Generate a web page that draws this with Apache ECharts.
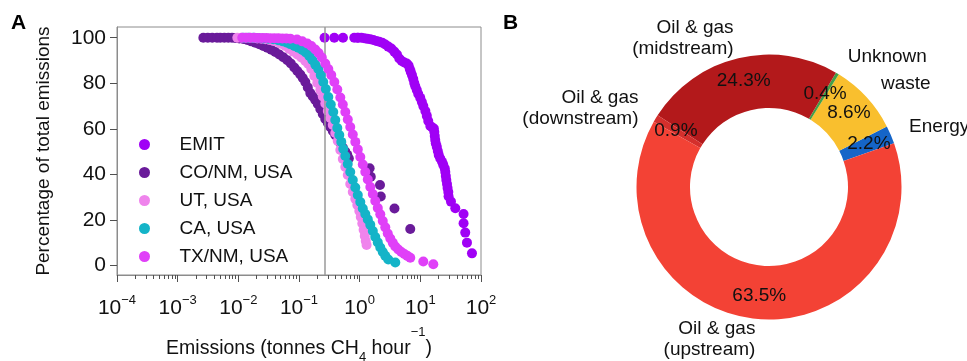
<!DOCTYPE html>
<html>
<head>
<meta charset="utf-8">
<script src="https://cdn.jsdelivr.net/npm/echarts@6/dist/echarts.min.js"></script>
<style>
  html, body { margin: 0; padding: 0; background: #fff; }
  #chart { width: 967px; height: 361px; }
</style>
</head>
<body>
<div id="chart"></div>
<script>
// ---- panel A: cumulative share of emissions vs. plume size ----
const seriesNames = ["EMIT", "CO/NM, USA", "UT, USA", "CA, USA", "TX/NM, USA"];
const seriesColors = ["#a000f5", "#6a1b9a", "#ef84ec", "#14b4c8", "#e040f8"];

const emitPts = [[0.264,100],[0.382,100],[0.531,100],[0.815,100],[0.914,100],
  [0.948,100],[1.064,100],[1.19,99.8],[1.336,99.5],[1.497,99.3],[1.678,99.0],[1.879,98.6],[2.105,98.2],
  [2.36,97.8],[2.643,97.0],[2.963,96.1],[3.32,95.3],[3.72,93.9],[4.12,92.6],[4.50,90.9],[4.94,89.8],
  [5.44,89.1],[5.98,88.7],[6.40,87.8],[6.70,86.3],[6.96,85.0],[7.28,83.6],[7.65,81.9],[7.94,80.1],
  [8.26,78.7],[8.74,77.1],[9.25,75.3],[9.98,73.6],[10.6,71.8],[11.2,70.0],[12.1,67.8],[12.8,65.7],
  [13.5,63.5],[14.6,61.3],[15.7,60.6],[16.7,60.2],[17.0,58.6],[17.3,56.9],[17.6,55.1],[18.0,53.6],
  [18.7,52.1],[19.4,50.3],[20.1,48.6],[21.3,47.0],[22.8,45.6],[23.9,44.2],[25.3,42.6],[25.8,41.1],
  [26.3,39.3],[26.8,37.6],[27.5,35.8],[28.1,34.1],[28.9,32.3],[29.2,30.4],[32.0,28.1],[37.7,25.2],
  [51.6,22.7],[51.6,18.6],[55.0,14.5],[58.7,10.1],[71.0,5.4]];

const conmPts = [[0.00265,100],[0.00314,100],[0.00372,100],[0.00445,100],[0.00504,100],[0.00587,100],
  [0.00683,100],[0.00786,100],[0.00891,99.9],[0.01038,99.7],[0.01208,99.4],[0.01406,99.0],[0.01637,98.4],
  [0.01906,97.8],[0.02215,97.1],[0.02576,96.4],[0.02999,95.6],[0.03491,94.7],[0.04064,93.7],[0.04731,92.6],
  [0.05508,91.4],[0.06412,90.1],[0.07328,88.7],[0.08359,86.9],[0.09376,85.4],[0.1050,83.9],[0.1153,82.3],
  [0.1270,80.6],[0.1396,78.2],[0.1535,75.7],[0.1687,74.2],[0.1854,72.7],[0.2040,70.9],[0.2244,68.7],
  [0.2466,66.5],[0.2710,64.3],[0.2985,62.6],[0.3281,60.8],[0.3606,59.1],[0.3963,57.3],[0.4355,55.6],
  [0.4797,53.8],[0.5272,51.8],[0.5797,50.1],[0.6253,48.6],[0.6627,47.0],
  [1.459,42.7],[1.525,39.0],[2.163,35.4],[2.230,30.3],[3.750,25.1],[6.826,16.1]];

const utPts = [[0.00962,100],[0.0112,100],[0.01304,100],[0.01518,100],[0.01767,99.9],[0.02057,99.7],
  [0.02389,99.6],[0.0278,99.3],[0.03236,99.0],[0.03767,98.6],[0.04385,98.1],[0.05105,97.3],[0.05943,96.4],
  [0.06918,95.1],[0.08054,93.9],[0.09376,92.6],[0.1092,91.3],[0.127,89.8],[0.1422,88.5],[0.1596,86.3],
  [0.1787,83.2],[0.2,80.1],[0.2244,77.1],[0.2466,74.2],[0.271,71.1],[0.2985,67.9],[0.3281,64.8],
  [0.3606,61.7],[0.3963,58.2],[0.4355,54.7],[0.4797,50.7],[0.5272,46.8],[0.5797,43.3],[0.6368,39.8],
  [0.6998,35.8],[0.7701,32.3],[0.8472,29.3],[0.9141,26.6],[0.9863,24.0],[1.043,21.4],[1.105,18.5],
  [1.161,15.7],[1.214,13.0],[1.261,10.8],[1.30,9.1]];

const caPts = [[0.01208,100],[0.01459,100],[0.01767,100],[0.02133,99.9],[0.02576,99.7],[0.03119,99.6],
  [0.03767,99.3],[0.0456,98.9],[0.05311,98.5],[0.06185,97.9],[0.07178,97.2],[0.08359,96.4],[0.09727,95.6],
  [0.1132,94.6],[0.1294,93.5],[0.1479,92.0],[0.1657,90.2],[0.1854,88.2],[0.208,86.3],[0.2286,83.6],
  [0.2512,80.6],[0.2767,77.5],[0.3041,74.0],[0.3342,70.7],[0.3672,67.4],[0.3963,63.9],[0.4276,60.4],
  [0.4613,57.3],[0.4977,54.3],[0.537,51.2],[0.5797,48.1],[0.6368,44.6],[0.6998,41.1],[0.7701,37.6],
  [0.8472,34.3],[0.9311,31.0],[1.024,27.9],[1.126,25.1],[1.238,22.7],[1.361,20.3],[1.497,17.9],
  [1.646,15.2],[1.809,12.6],[1.989,10.2],[2.187,8.0],[2.404,6.0],[2.643,4.3],[2.963,2.7],[3.864,1.4]];

const txPts = [[0.01161,100],[0.01352,100],[0.01574,100],[0.01832,100],[0.02133,99.9],[0.02483,99.9],
  [0.02891,99.9],[0.03365,99.8],[0.03918,99.8],[0.0456,99.8],[0.05311,99.7],[0.06185,99.7],[0.07178,99.6],
  [0.09268,99.2],[0.1132,98.4],[0.1371,97.5],[0.1596,96.4],[0.1854,94.8],[0.2104,93.3],[0.2377,91.3],
  [0.271,88.7],[0.3041,86.3],[0.3404,83.6],[0.3822,80.6],[0.4276,77.3],[0.4797,73.8],[0.5272,70.7],
  [0.5797,67.4],[0.6368,64.1],[0.6998,60.8],[0.7701,57.5],[0.8472,54.3],[0.9311,51.0],[1.024,47.7],
  [1.126,44.4],[1.238,41.1],[1.361,37.8],[1.497,34.5],[1.646,31.4],[1.809,28.4],[1.989,25.3],
  [2.187,22.5],[2.404,19.6],[2.643,16.8],[2.904,14.1],[3.199,11.9],[3.516,10.0],[3.864,8.4],
  [4.335,7.1],[4.857,6.0],[5.445,5.1],[6.097,4.3],[6.826,3.5],[11.19,1.8],[16.36,0.6]];

const detectionLimit = 0.27; // grey vertical line
const yTicks = [0, 20, 40, 60, 80, 100];
const minorTicks = [2e-4,3e-4,4e-4,5e-4,6e-4,7e-4,8e-4,9e-4, 2e-3,3e-3,4e-3,5e-3,6e-3,7e-3,8e-3,9e-3,
  0.02,0.03,0.04,0.05,0.06,0.07,0.08,0.09, 0.2,0.3,0.4,0.5,0.6,0.7,0.8,0.9, 2,3,4,5,6,7,8,9,
  20,30,40,50,60,70,80,90];

// ---- panel B: sector shares (counter-clockwise from the Energy slice) ----
const sectorLabels = ["Energy", "waste", "Unknown", "Oil & gas\n(midstream)", "Oil & gas\n(downstream)", "Oil & gas\n(upstream)"];
const sectorShares = [2.2, 8.6, 0.4, 24.3, 0.9, 63.5];
const sectorColors = ["#1565c8", "#f9bf2e", "#43a047", "#b3191b", "#d42f2c", "#f34235"];

const FONT = "Liberation Sans, Arial, sans-serif";
const allPts = [emitPts, conmPts, utPts, caPts, txPts];

let myChart = echarts.init(document.getElementById("chart"));

let scatterSeries = seriesNames.map((name, i) => {
  let s = {
    name: name,
    type: "scatter",
    xAxisIndex: 0,
    yAxisIndex: 0,
    data: allPts[i],
    symbolSize: 10,
    itemStyle: { color: seriesColors[i], opacity: 1 },
    emphasis: { disabled: true },
    silent: true,
    z: 2 + i
  };
  if (i === 0) {
    s.markLine = {
      silent: true,
      symbol: ["none", "none"],
      label: { show: false },
      lineStyle: { color: "#9a9a9a", width: 1.5, type: "solid" },
      data: [{ xAxis: detectionLimit }]
    };
  }
  return s;
});

let pieData = sectorLabels.map((n, i) => ({
  name: n,
  value: sectorShares[i],
  itemStyle: { color: sectorColors[i] }
}));

myChart.setOption({
  animation: false,
  textStyle: { fontFamily: FONT },
  graphic: [
    { type: "text", left: 11, top: 13, style: { text: "A", font: "bold 21px " + FONT, fill: "#000" } },
    { type: "text", left: 503, top: 13, style: { text: "B", font: "bold 21px " + FONT, fill: "#000" } }
  ],
  grid: {
    left: 117,
    top: 27,
    width: 364,
    height: 248,
    show: true,
    borderColor: "#8c8c8c",
    borderWidth: 1,
    containLabel: false,
    outerBoundsMode: "none"
  },
  legend: {
    data: seriesNames,
    orient: "vertical",
    left: 134,
    top: 130,
    itemWidth: 60,
    itemHeight: 11,
    itemGap: 9,
    icon: "circle",
    selectedMode: false,
    textStyle: { fontSize: 19, lineHeight: 18, color: "#111", fontFamily: FONT }
  },
  xAxis: [
    {
      type: "log",
      logBase: 10,
      min: 0.0001,
      max: 100,
      position: "bottom",
      axisLine: { show: true, onZero: false, lineStyle: { color: "#8c8c8c" } },
      axisTick: { show: true, inside: false, length: 7, lineStyle: { color: "#505050", width: 1 } },
      splitLine: { show: false },
      minorTick: { show: false },
      axisLabel: {
        margin: 19,
        color: "#111",
        formatter: function(v) {
          let e = Math.round(Math.log10(v));
          return "{b|10}{sup|" + (e < 0 ? "\u2212" + (-e) : e) + "}";
        },
        rich: {
          b: { fontSize: 21, lineHeight: 29, color: "#111", fontFamily: FONT },
          sup: { fontSize: 13, lineHeight: 13, verticalAlign: "top", color: "#111", fontFamily: FONT }
        }
      },
      name: "Emissions (tonnes CH{sub|4} hour{sup|\u22121})",
      nameLocation: "middle",
      nameGap: 51,
      nameTextStyle: {
        fontSize: 19.5,
        lineHeight: 46,
        color: "#111",
        fontFamily: FONT,
        rich: {
          sub: { fontSize: 13, verticalAlign: "middle", padding: [17, 0, 0, 0], color: "#111", fontFamily: FONT },
          sup: { fontSize: 13, lineHeight: 13, verticalAlign: "top", color: "#111", fontFamily: FONT }
        }
      }
    },
    {
      // minor ticks of the log axis, in log10 units
      type: "value",
      min: -4,
      max: 2,
      position: "bottom",
      silent: true,
      axisLine: { show: false, onZero: false },
      axisLabel: { show: false },
      splitLine: { show: false },
      axisTick: {
        show: true,
        inside: false,
        length: 4,
        customValues: minorTicks.map(Math.log10),
        lineStyle: { color: "#505050", width: 1 }
      }
    }
  ],
  yAxis: [
    {
      type: "value",
      min: -4.1,
      max: 104.7,
      axisLine: { show: true, onZero: false, lineStyle: { color: "#8c8c8c" } },
      axisTick: { show: true, inside: false, length: 7, customValues: yTicks, lineStyle: { color: "#505050", width: 1 } },
      axisLabel: { customValues: yTicks, fontSize: 21, color: "#111", margin: 11, fontFamily: FONT },
      splitLine: { show: false },
      name: "Percentage of total emissions",
      nameLocation: "middle",
      nameGap: 64,
      nameRotate: 90,
      nameTextStyle: { fontSize: 19, color: "#111", fontFamily: FONT }
    }
  ],
  series: scatterSeries.concat([
    {
      type: "pie",
      center: [769, 187],
      radius: [79, 132.5],
      startAngle: 19.3,
      clockwise: false,
      avoidLabelOverlap: false,
      silent: true,
      emphasis: { disabled: true },
      itemStyle: { borderWidth: 0 },
      label: {
        show: true,
        position: "inside",
        formatter: "{c}%",
        fontSize: 19,
        color: "#111",
        fontFamily: FONT
      },
      labelLine: { show: false },
      data: pieData
    },
    {
      // second pass for the sector names outside the ring
      type: "pie",
      center: [769, 187],
      radius: [79, 132.5],
      startAngle: 19.3,
      clockwise: false,
      avoidLabelOverlap: false,
      silent: true,
      emphasis: { disabled: true },
      itemStyle: { color: "rgba(0,0,0,0)", borderWidth: 0 },
      label: {
        show: true,
        position: "outside",
        formatter: "{b}",
        fontSize: 19,
        lineHeight: 21,
        color: "#111",
        fontFamily: FONT,
        distanceToLabelLine: 0
      },
      labelLine: { show: false, length: 20, length2: 0 },
      data: sectorLabels.map((n, i) => ({ name: n, value: sectorShares[i] }))
    }
  ])
});
</script>
</body>
</html>
